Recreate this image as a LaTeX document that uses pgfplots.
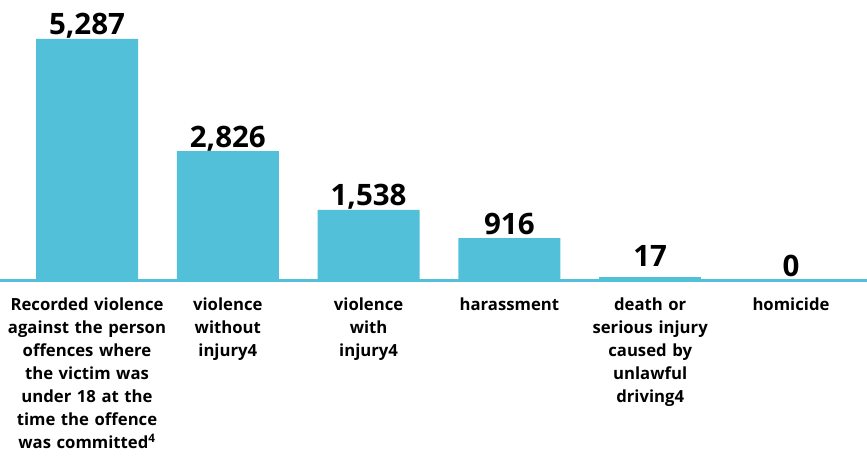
\documentclass[border=0pt]{standalone}
\usepackage{fontspec}
\setmainfont{Open Sans}
\usepackage{pgfplots}
\pgfplotsset{compat=1.18}
\definecolor{barblue}{RGB}{83,192,218}
\begin{document}
\begin{tikzpicture}
\begin{axis}[
  at={(0,0)}, anchor=south west,
  scale only axis, width=867pt, height=280pt,
  xmin=-0.618, xmax=5.54, ymin=0, ymax=6142,
  hide y axis, axis x line*=bottom,
  x axis line style={line width=3pt, barblue},
  xtick={0,1,2,3,4,5},
  xticklabels={
    {Recorded violence\\against the person\\offences where\\the victim was\\under 18 at the\\time the offence\\was committed\textsuperscript{4}},
    {violence\\without\\injury4},
    {violence\\with\\injury4},
    {harassment},
    {death or\\serious injury\\caused by\\unlawful\\driving4},
    {homicide}},
  major tick length=0pt,
  xticklabel style={font=\bfseries\fontsize{16.7}{23}\selectfont, text width=170pt, align=center, anchor=north, yshift=-14.5pt},
  ybar, bar width=0.7245, bar shift=0pt,
  clip=false,
  nodes near coords,
  point meta=explicit symbolic,
  nodes near coords style={font=\bfseries\fontsize{29.5}{30}\selectfont, anchor=base, yshift=4pt, text=black},
]
\addplot[fill=barblue, draw=none] coordinates {
  (0,5287) [5,287]
  (1,2826) [2,826]
  (2,1538) [1,538]
  (3,916) [916]
  (5,0) [0]
};
\addplot[fill=barblue, draw=barblue, line width=4pt, bar width=0.696,
  nodes near coords style={yshift=9pt}] coordinates {
  (4,17) [17]
};
\end{axis}
\pgfresetboundingbox
\path (0,-175pt) rectangle (867pt,280pt);
\end{tikzpicture}
\end{document}
